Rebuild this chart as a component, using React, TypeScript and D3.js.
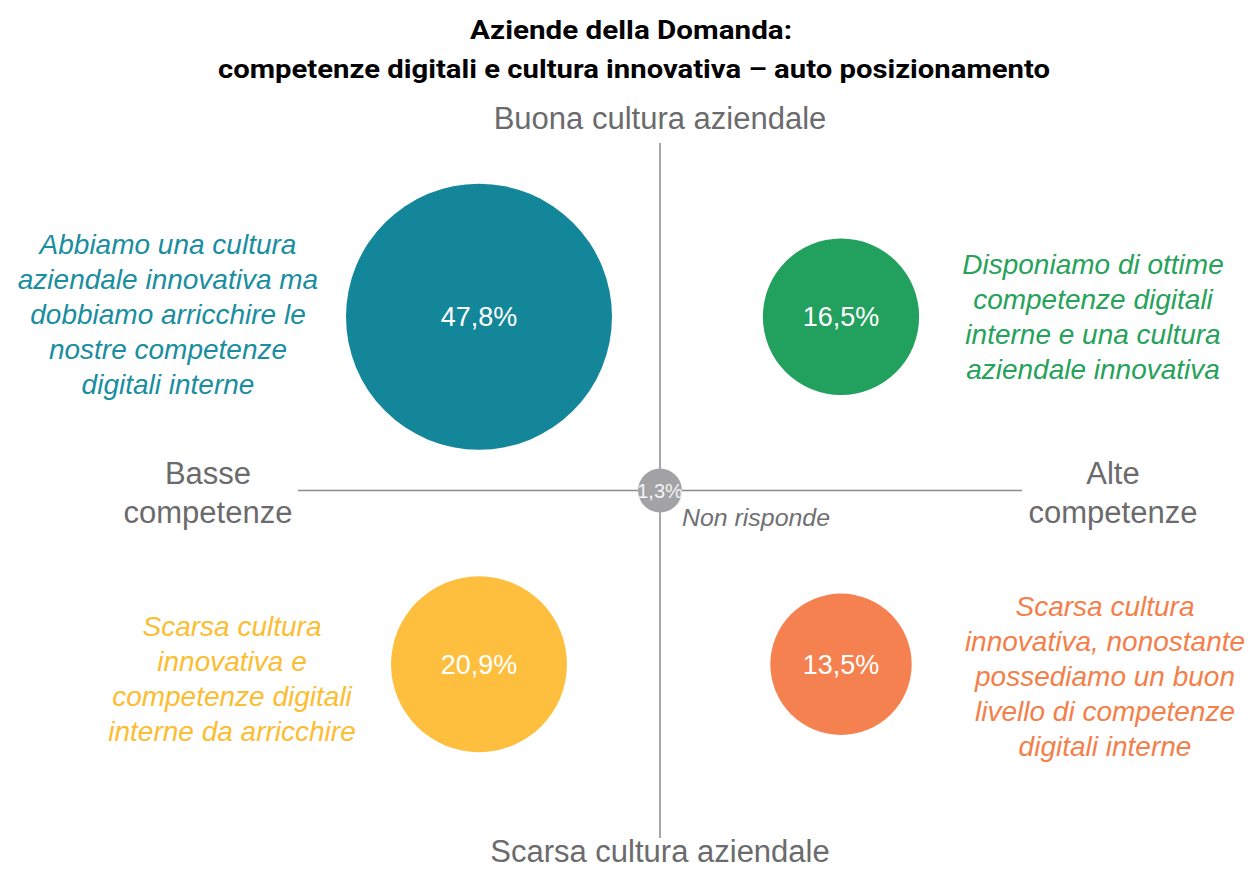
import React, { useEffect, useRef } from 'react';
import * as d3 from 'd3';

// quadrant data (x: competenze, y: cultura), values in %
const labels = ['47,8%', '16,5%', '20,9%', '13,5%', '1,3%'];
const values = [47.8, 16.5, 20.9, 13.5, 1.3];
const xPos = [-0.5, 0.5, -0.5, 0.5, 0];
const yPos = [0.5, 0.5, -0.5, -0.5, 0];
const fills = ['#138799', '#22a05e', '#fdbf3d', '#f4814f', '#a3a3a5'];

const descriptions = [
  ['Abbiamo una cultura', 'aziendale innovativa ma', 'dobbiamo arricchire le', 'nostre competenze', 'digitali interne'],
  ['Disponiamo di ottime', 'competenze digitali', 'interne e una cultura', 'aziendale innovativa'],
  ['Scarsa cultura', 'innovativa e', 'competenze digitali', 'interne da arricchire'],
  ['Scarsa cultura', 'innovativa, nonostante', 'possediamo un buon', 'livello di competenze', 'digitali interne'],
];
const descColors = ['#1a8e9f', '#27a25b', '#fbbd32', '#f47f4a'];
const descX = [168, 1093, 232, 1105];
const descTop = [254, 274, 636, 616];

const W = 1255, H = 870;

const App = () => {
  const ref = useRef<SVGSVGElement | null>(null);

  useEffect(() => {
    const svg = d3.select(ref.current);
    svg.selectAll('*').remove();

    const x = d3.scaleLinear().domain([-1, 1]).range([298, 1022]);
    const y = d3.scaleLinear().domain([-1, 1]).range([838, 143]);
    const r = d3.scaleSqrt().domain([0, 47.8]).range([0, 133]);
    const font = "'Liberation Sans', Arial, sans-serif";
    const axisGray = '#6b6b6d';

    // title
    const title = svg.append('g').attr('font-family', 'Roboto, sans-serif')
      .attr('font-weight', 700).attr('font-size', 26).attr('text-anchor', 'middle');
    title.append('text').attr('x', 631).attr('y', 39)
      .attr('textLength', 322).attr('lengthAdjust', 'spacingAndGlyphs')
      .text('Aziende della Domanda:');
    title.append('text').attr('x', 634).attr('y', 78)
      .attr('textLength', 832).attr('lengthAdjust', 'spacingAndGlyphs')
      .text('competenze digitali e cultura innovativa – auto posizionamento');

    // axes
    svg.append('line').attr('x1', x(0)).attr('x2', x(0)).attr('y1', y(1)).attr('y2', y(-1))
      .attr('stroke', '#8a8a8c').attr('stroke-width', 1.5);
    svg.append('line').attr('x1', x(-1)).attr('x2', x(1)).attr('y1', y(0)).attr('y2', y(0))
      .attr('stroke', '#8a8a8c').attr('stroke-width', 1.5);

    const ax = svg.append('g').attr('font-family', font).attr('font-size', 31)
      .attr('fill', axisGray).attr('text-anchor', 'middle');
    ax.append('text').attr('x', 660).attr('y', 129).text('Buona cultura aziendale');
    ax.append('text').attr('x', 660).attr('y', 862).text('Scarsa cultura aziendale');
    ax.append('text').attr('x', 208).attr('y', 484).text('Basse');
    ax.append('text').attr('x', 208).attr('y', 523).text('competenze');
    ax.append('text').attr('x', 1113).attr('y', 484).text('Alte');
    ax.append('text').attr('x', 1113).attr('y', 523).text('competenze');

    // bubbles
    const data = values.map((v, i) => ({ v, label: labels[i], x: xPos[i], y: yPos[i], fill: fills[i] }));
    const g = svg.selectAll('g.bubble').data(data).enter().append('g').attr('class', 'bubble');
    g.append('circle')
      .attr('cx', d => x(d.x)).attr('cy', d => y(d.y)).attr('r', d => r(d.v))
      .attr('fill', d => d.fill);
    g.append('text')
      .attr('x', d => x(d.x)).attr('y', d => y(d.y))
      .attr('dy', '0.35em').attr('text-anchor', 'middle')
      .attr('font-family', font)
      .attr('font-size', d => (d.v < 5 ? 20 : 27))
      .attr('fill', d => (d.v < 5 ? '#f4f4f4' : '#ffffff'))
      .text(d => d.label);

    svg.append('text').attr('x', 682).attr('y', 526).attr('font-family', font)
      .attr('font-style', 'italic').attr('font-size', 23).attr('fill', '#707072')
      .attr('textLength', 148).attr('lengthAdjust', 'spacingAndGlyphs')
      .text('Non risponde');

    // quadrant descriptions
    descriptions.forEach((lines, i) => {
      const t = svg.append('text').attr('font-family', font).attr('font-style', 'italic')
        .attr('font-size', 28).attr('fill', descColors[i]).attr('text-anchor', 'middle');
      lines.forEach((l, j) => {
        t.append('tspan').attr('x', descX[i]).attr('y', descTop[i] + j * 35).text(l);
      });
    });
  }, []);

  return (
    <div style={{ position: 'absolute', left: 0, top: 0, background: '#fff' }}>
      <svg ref={ref} width={W} height={H} />
    </div>
  );
};

export default App;
